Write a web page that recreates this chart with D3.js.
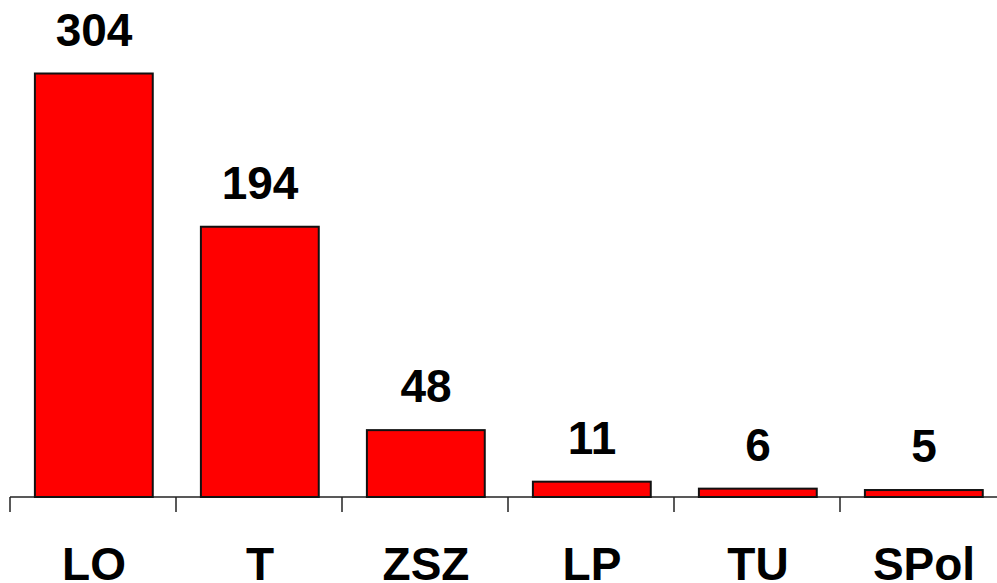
<!DOCTYPE html>
<html><head><meta charset="utf-8">
<script src="https://cdn.jsdelivr.net/npm/d3@7"></script>
<style>body{margin:0;background:#fff}svg{display:block}</style>
</head><body>
<script>
const categories = ["LO","T","ZSZ","LP","TU","SPol"];
const values = [304,194,48,11,6,5];

const W=997,H=583;
const svg=d3.select("body").append("svg").attr("width",W).attr("height",H);
const x=d3.scaleBand().domain(categories).range([10,1006]).padding(0);
const y=d3.scaleLinear().domain([0,304]).range([497,73.5]);
const bw=x.bandwidth();

// axis line and ticks
svg.append("line").attr("x1",10).attr("x2",W).attr("y1",y(0)).attr("y2",y(0))
  .attr("stroke","#222").attr("stroke-width",1.5);
const tickPos=categories.map(c=>x(c));
svg.selectAll("line.tick").data(tickPos).join("line").attr("class","tick")
  .attr("x1",d=>d).attr("x2",d=>d).attr("y1",y(0)).attr("y2",y(0)+15)
  .attr("stroke","#222").attr("stroke-width",1.5);

svg.selectAll("rect.bar").data(categories).join("rect").attr("class","bar")
  .attr("x",c=>x(c)+bw*0.15).attr("width",bw*0.71)
  .attr("y",(c,i)=>y(values[i])).attr("height",(c,i)=>y(0)-y(values[i]))
  .attr("fill","#ff0000").attr("stroke","#111").attr("stroke-width",2);

svg.selectAll("text.val").data(categories).join("text").attr("class","val")
  .attr("x",c=>x(c)+bw/2+1).attr("y",(c,i)=>y(values[i])-28)
  .attr("text-anchor","middle").attr("font-family","Liberation Sans, Arial, sans-serif")
  .attr("font-weight","bold").attr("font-size",46).attr("fill","#000")
  .text((c,i)=>values[i]);

svg.selectAll("text.cat").data(categories).join("text").attr("class","cat")
  .attr("x",c=>x(c)+bw/2+1).attr("y",580)
  .attr("text-anchor","middle").attr("font-family","Liberation Sans, Arial, sans-serif")
  .attr("font-weight","bold").attr("font-size",46).attr("fill","#000")
  .text(c=>c);
</script>
</body></html>
